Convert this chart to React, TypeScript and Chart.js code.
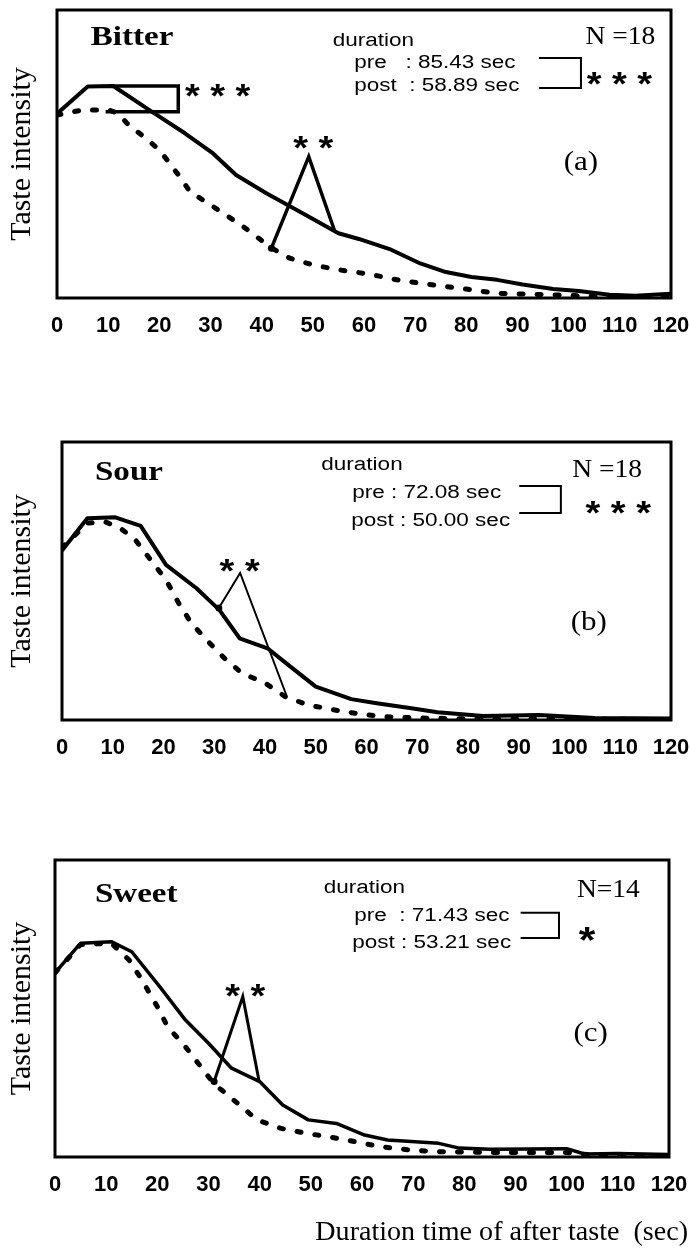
import React, { useEffect, useRef } from "react";
import { Chart, registerables } from "chart.js";

Chart.register(...registerables);

// ---------- data (time in sec, intensity in arbitrary units 0-100) ----------
const X_MIN = 0;
const X_MAX = 120;
const X_STEP = 10;

// (a) Bitter
const BITTER_PRE_X = [0, 6, 11, 18, 25, 30.5, 35, 41, 48, 55, 59, 65, 71, 76, 81, 86, 91, 97, 102, 108, 113, 120];
const BITTER_PRE_Y = [64, 73.4, 73.6, 65.3, 57.2, 50.2, 42.7, 36.3, 29.4, 22.5, 20.5, 17, 12, 9, 7.3, 6.3, 4.7, 3.1, 2.4, 1.1, 0.8, 1.5];
const BITTER_POST_X = [0, 5, 10, 12, 14, 17, 20, 22, 24, 26, 29.5, 32.5, 36, 39, 42, 45.5, 50, 55, 61, 67, 72, 80, 86, 95, 105, 120];
const BITTER_POST_Y = [63.5, 65.3, 65.3, 64.1, 60, 56, 51.4, 46.8, 42.1, 36.9, 32.9, 29.4, 25.3, 21.3, 17.3, 13.8, 11.5, 9.8, 8.3, 6.1, 4.9, 3.1, 1.6, 1.2, 0.6, 0.4];
const BITTER_PEAK_SIG_X = [11, 23.7, 23.7, 9.5];
const BITTER_PEAK_SIG_Y = [73.6, 73.6, 64.7, 64.7];
const BITTER_SIG_X = [41.9, 49.2, 54.2];
const BITTER_SIG_Y = [17.3, 49.1, 23.6];
const BITTER_DUR_X = [94.2, 102.4, 102.4, 94.2];
const BITTER_DUR_Y = [83.3, 83.3, 72.9, 72.9];

// (b) Sour
const SOUR_PRE_X = [0, 5, 10.5, 15.5, 20.5, 26.5, 31, 35, 40.5, 45, 50, 57, 62, 68.5, 74, 83, 94, 105, 120];
const SOUR_PRE_Y = [61, 72.6, 72.9, 69.8, 55.8, 47.4, 39.6, 29.4, 25.8, 19.2, 12, 7.5, 6, 4.3, 2.8, 1.4, 1.8, 0.7, 0.5];
const SOUR_POST_X = [0, 5, 8.5, 11.5, 14.5, 17.5, 20.5, 23, 25.5, 28.5, 32, 35.5, 40, 44, 48.5, 55.5, 63, 71, 85, 120];
const SOUR_POST_Y = [62, 70.8, 71.3, 69, 64.7, 57.5, 50.4, 42, 34.8, 28.8, 22.2, 16.8, 13.3, 8.4, 5.4, 3, 1.2, 0.7, 0.3, 0.2];
const SOUR_SIG_X = [30.9, 35.1, 44.2];
const SOUR_SIG_Y = [40.3, 52.9, 9];
const SOUR_DUR_X = [90.1, 98.3, 98.3, 90.1];
const SOUR_DUR_Y = [84.2, 84.2, 74.5, 74.5];

// (c) Sweet
const SWEET_PRE_X = [0, 5, 11, 15, 20.5, 25.5, 30, 34.5, 40, 44.5, 49.5, 55, 60.5, 65, 75, 79, 85, 100, 103.5, 110, 120];
const SWEET_PRE_Y = [62, 72, 72.5, 69.1, 57.3, 46.1, 38.3, 29.9, 25.4, 17.5, 12.5, 11.3, 7.4, 5.7, 4.6, 3, 2.6, 2.8, 1, 1.2, 0.8];
const SWEET_POST_X = [0, 5, 11, 14.5, 17, 20, 22, 25.5, 28, 31, 34.5, 39.5, 44, 49, 53.5, 58.5, 63.5, 69, 75, 85, 100, 106, 120];
const SWEET_POST_Y = [62, 71.5, 72, 66.3, 59.6, 50.6, 43.9, 37.1, 31.5, 24.8, 19.8, 12.5, 9.7, 8, 6.8, 5.2, 3.5, 2.4, 1.8, 1.5, 1.5, 0.5, 0.4];
const SWEET_SIG_X = [31.1, 36.7, 39.9];
const SWEET_SIG_Y = [25.4, 54, 25.4];
const SWEET_DUR_X = [91, 98.5, 98.5, 91];
const SWEET_DUR_Y = [82.2, 82.2, 73.7, 73.7];

const Y_TITLE = "Taste intensity";
const X_TITLE = "Duration time of after taste  (sec)";

// ---------- styling ----------
const SERIF = "'Liberation Serif', 'Times New Roman', serif";
const SANS = "'Liberation Sans', Arial, sans-serif";

type TextItem = {
  text: string;
  x: number;
  y: number;
  font: string;
  sx?: number;
  align?: CanvasTextAlign;
  baseline?: CanvasTextBaseline;
  dy?: number;
};

const star = (text: string, x: number, y: number, size = 33): TextItem => ({
  text, x, y, font: `bold ${size}px ${SANS}`, sx: 1.15, align: "center", dy: size * 0.57,
});
const label = (text: string, x: number, y: number): TextItem => ({
  text, x, y, font: `18px ${SANS}`, sx: 1.25, align: "left",
});

const BITTER_TEXT: TextItem[] = [
  { text: "Bitter", x: 6.6, y: 87.8, font: `bold 28px ${SERIF}`, sx: 1.18 },
  label("duration", 53.9, 87.5),
  label("pre   : 85.43 sec", 58.1, 79.9),
  label("post  : 58.89 sec", 58.1, 71.9),
  star("* * *", 109.9, 77.1),
  { text: "N =18", x: 116.9, y: 88.2, font: `25px ${SERIF}`, sx: 1.1, align: "right" },
  { text: "(a)", x: 102.4, y: 46.9, font: `27px ${SERIF}`, sx: 1.15, align: "center", baseline: "middle" },
  star("* * *", 31.4, 72.9),
  star("* *", 50.1, 54.9),
];
const SOUR_TEXT: TextItem[] = [
  { text: "Sour", x: 6.5, y: 86.3, font: `bold 28px ${SERIF}`, sx: 1.18 },
  label("duration", 51.1, 89.9),
  label("pre : 72.08 sec", 57.2, 79.9),
  label("post : 50.00 sec", 57, 69.8),
  star("* * *", 109.6, 77.3),
  { text: "N =18", x: 114.3, y: 87.4, font: `25px ${SERIF}`, sx: 1.1, align: "right" },
  { text: "(b)", x: 103.8, y: 34.9, font: `27px ${SERIF}`, sx: 1.15, align: "center", baseline: "middle" },
  star("* *", 35, 56.5),
];
const SWEET_TEXT: TextItem[] = [
  { text: "Sweet", x: 7.8, y: 85.9, font: `bold 28px ${SERIF}`, sx: 1.18 },
  label("duration", 52.5, 88.9),
  label("pre  : 71.43 sec", 58.5, 79.5),
  label("post : 53.21 sec", 58.1, 70.4),
  star("*", 104, 75.8, 37),
  { text: "N=14", x: 114.3, y: 87.5, font: `25px ${SERIF}`, sx: 1.1, align: "right" },
  { text: "(c)", x: 104.7, y: 41.4, font: `27px ${SERIF}`, sx: 1.15, align: "center", baseline: "middle" },
  star("* *", 37.2, 56.9),
];

const pts = (xs: number[], ys: number[]) => xs.map((x, i) => ({ x, y: ys[i] }));

const annotPlugin = {
  id: "annot",
  afterDraw(chart: any, _args: any, opts: any) {
    const { ctx, chartArea: a, scales } = chart;
    const xs = scales.x;
    const ys = scales.y;
    ctx.save();
    ctx.strokeStyle = "#000";
    ctx.lineWidth = 3;
    ctx.strokeRect(a.left, a.top, a.right - a.left, a.bottom - a.top);
    ctx.fillStyle = "#000";
    for (const t of (opts.texts || []) as TextItem[]) {
      ctx.save();
      const px = xs.getPixelForValue(t.x);
      const py = ys.getPixelForValue(t.y) + (t.dy || 0);
      ctx.translate(px, py);
      ctx.scale(t.sx || 1, 1);
      ctx.font = t.font;
      ctx.textAlign = t.align || "left";
      ctx.textBaseline = t.baseline || "alphabetic";
      ctx.fillText(t.text, 0, 0);
      ctx.restore();
    }
    if (opts.xTitle) {
      ctx.save();
      ctx.translate(chart.width - 2, chart.height - 10);
      ctx.scale(1.04, 1);
      ctx.font = `27px ${SERIF}`;
      ctx.textAlign = "right";
      ctx.textBaseline = "alphabetic";
      ctx.fillText(opts.xTitle, 0, 0);
      ctx.restore();
    }
    ctx.restore();
  },
};

type PanelCfg = {
  top: number;
  height: number;
  padTop: number;
  padRight: number;
  yWidth: number;
  xHeight: number;
  preX: number[];
  preY: number[];
  postX: number[];
  postY: number[];
  preWidth: number;
  peakSigX?: number[];
  peakSigY?: number[];
  sigX: number[];
  sigY: number[];
  sigWidth: number;
  durX: number[];
  durY: number[];
  texts: TextItem[];
  xTitle?: string;
};

function Panel({ cfg }: { cfg: PanelCfg }) {
  const ref = useRef<HTMLCanvasElement | null>(null);
  useEffect(() => {
    if (!ref.current) return;
    const datasets: any[] = [
      {
        data: pts(cfg.preX, cfg.preY),
        borderColor: "#000",
        borderWidth: cfg.preWidth,
        pointRadius: 0,
        tension: 0,
        borderJoinStyle: "round",
      },
      {
        data: pts(cfg.postX, cfg.postY),
        borderColor: "#000",
        borderWidth: 5,
        borderDash: [4, 14],
        borderCapStyle: "round",
        pointRadius: 0,
        tension: 0,
      },
      {
        data: pts(cfg.sigX, cfg.sigY),
        borderColor: "#000",
        backgroundColor: "#000",
        borderWidth: cfg.sigWidth,
        pointRadius: [3.5, 0, 0],
        pointBorderWidth: 0,
        tension: 0,
        borderJoinStyle: "miter",
      },
      {
        data: pts(cfg.durX, cfg.durY),
        borderColor: "#000",
        borderWidth: 2,
        pointRadius: 0,
        tension: 0,
        clip: false,
      },
    ];
    if (cfg.peakSigX && cfg.peakSigY) {
      datasets.push({
        data: pts(cfg.peakSigX, cfg.peakSigY),
        borderColor: "#000",
        borderWidth: 3.5,
        pointRadius: 0,
        tension: 0,
        borderJoinStyle: "miter",
      });
    }
    const chart = new Chart(ref.current, {
      type: "line",
      data: { datasets },
      plugins: [annotPlugin as any],
      options: {
        animation: false,
        responsive: false,
        maintainAspectRatio: false,
        layout: { padding: { top: cfg.padTop, right: cfg.padRight, left: 0, bottom: 0 } },
        plugins: {
          legend: { display: false },
          tooltip: { enabled: false },
          annot: { texts: cfg.texts, xTitle: cfg.xTitle },
        } as any,
        scales: {
          x: {
            type: "linear",
            min: X_MIN,
            max: X_MAX,
            ticks: {
              stepSize: X_STEP,
              color: "#000",
              font: { family: SANS, size: 22, weight: "bold" },
              padding: 15,
              maxRotation: 0,
              autoSkip: false,
            },
            grid: { display: false, drawTicks: false },
            border: { display: false },
            afterFit: (s: any) => {
              s.height = cfg.xHeight;
              s.paddingLeft = 0;
              s.paddingRight = 0;
            },
          },
          y: {
            type: "linear",
            min: 0,
            max: 100,
            ticks: { display: false },
            grid: { display: false, drawTicks: false },
            border: { display: false },
            title: {
              display: true,
              text: Y_TITLE,
              color: "#000",
              font: { family: SERIF, size: 30 },
              padding: { top: 4, bottom: 4 },
            },
            afterFit: (s: any) => {
              s.width = cfg.yWidth;
            },
          },
        },
      } as any,
    });
    return () => chart.destroy();
  }, [cfg]);
  return (
    <canvas
      ref={ref}
      width={690}
      height={cfg.height}
      style={{ position: "absolute", left: 0, top: cfg.top, width: 690, height: cfg.height }}
    />
  );
}

const PANELS: PanelCfg[] = [
  {
    top: 0, height: 345, padTop: 10, padRight: 19, yWidth: 57, xHeight: 47,
    preX: BITTER_PRE_X, preY: BITTER_PRE_Y, postX: BITTER_POST_X, postY: BITTER_POST_Y, preWidth: 4,
    peakSigX: BITTER_PEAK_SIG_X, peakSigY: BITTER_PEAK_SIG_Y,
    sigX: BITTER_SIG_X, sigY: BITTER_SIG_Y, sigWidth: 3.5,
    durX: BITTER_DUR_X, durY: BITTER_DUR_Y, texts: BITTER_TEXT,
  },
  {
    top: 345, height: 425, padTop: 97, padRight: 19, yWidth: 62, xHeight: 50,
    preX: SOUR_PRE_X, preY: SOUR_PRE_Y, postX: SOUR_POST_X, postY: SOUR_POST_Y, preWidth: 4,
    sigX: SOUR_SIG_X, sigY: SOUR_SIG_Y, sigWidth: 2,
    durX: SOUR_DUR_X, durY: SOUR_DUR_Y, texts: SOUR_TEXT,
  },
  {
    top: 770, height: 480, padTop: 90, padRight: 21, yWidth: 55, xHeight: 93,
    preX: SWEET_PRE_X, preY: SWEET_PRE_Y, postX: SWEET_POST_X, postY: SWEET_POST_Y, preWidth: 3.5,
    sigX: SWEET_SIG_X, sigY: SWEET_SIG_Y, sigWidth: 3,
    durX: SWEET_DUR_X, durY: SWEET_DUR_Y, texts: SWEET_TEXT, xTitle: X_TITLE,
  },
];

export default function App() {
  return (
    <div style={{ position: "absolute", left: 0, top: 0, width: 690, height: 1250, background: "#fff" }}>
      {PANELS.map((p, i) => (
        <Panel key={i} cfg={p} />
      ))}
    </div>
  );
}
